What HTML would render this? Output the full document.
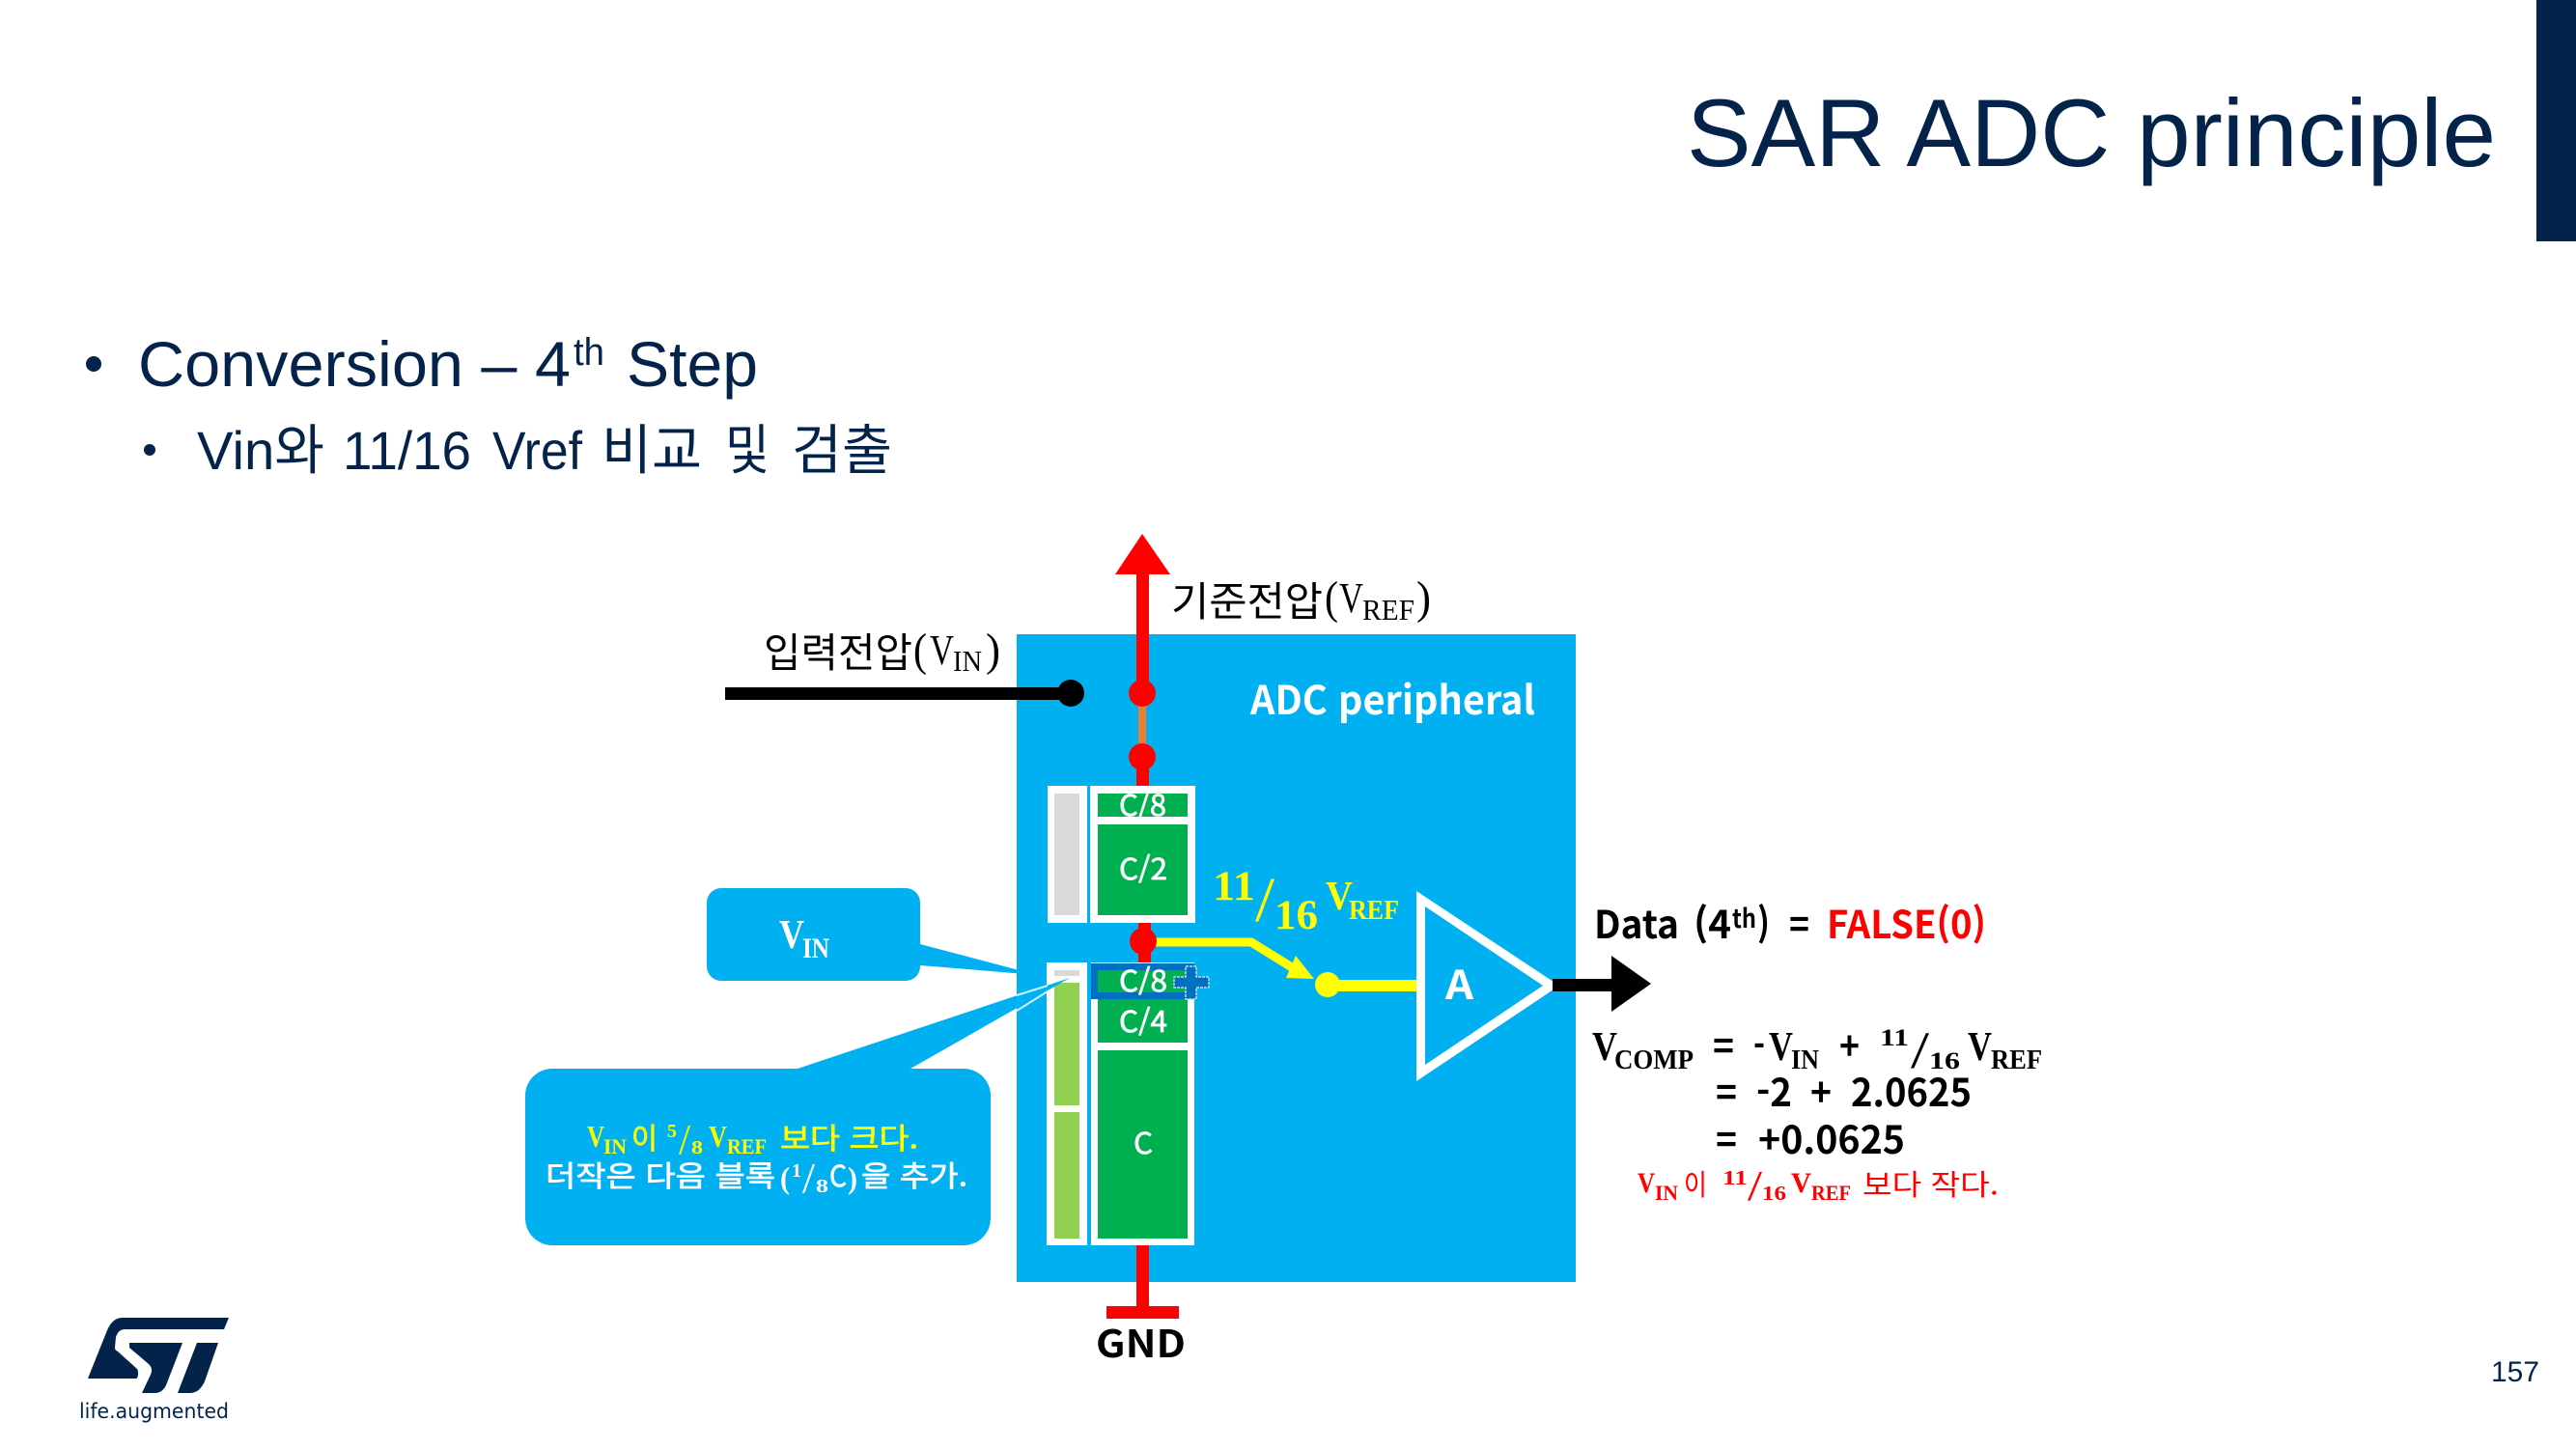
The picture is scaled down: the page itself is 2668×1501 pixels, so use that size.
<!DOCTYPE html>
<html lang="ko">
<head>
<meta charset="utf-8">
<title>SAR ADC principle</title>
<style>
html,body{margin:0;padding:0;background:#fff;}
body{width:2668px;height:1501px;overflow:hidden;}
svg{display:block;}
.h{font-family:"Liberation Sans","Noto Sans CJK KR",sans-serif;fill:#03234B;}
.k{font-family:"Noto Sans CJK KR","Liberation Sans",sans-serif;}
.s{font-family:"Liberation Serif","Noto Serif CJK SC",serif;}
.w{fill:#fff;}
.y{fill:#FFFF00;}
.r{fill:#FF0000;}
.b{fill:#000;}
.B{font-weight:700;}
.fw{stroke:#fff;stroke-width:.7px;}
.fy{stroke:#FFFF00;stroke-width:.7px;}
</style>
</head>
<body>
<svg xmlns="http://www.w3.org/2000/svg" width="2668" height="1501" viewBox="0 0 2668 1501">
<rect width="2668" height="1501" fill="#fff"/>

<!-- header -->
<rect x="2627" y="0" width="41" height="250" fill="#03234B"/>
<text class="h" x="1747" y="172" font-size="99" textLength="838" lengthAdjust="spacingAndGlyphs">SAR ADC principle</text>

<!-- bullets -->
<circle cx="97" cy="377" r="8" fill="#03234B"/>
<text class="h" x="143" y="400" font-size="66" textLength="448" lengthAdjust="spacingAndGlyphs">Conversion – 4</text>
<text class="h" x="594" y="378" font-size="40" textLength="32" lengthAdjust="spacingAndGlyphs">th</text>
<text class="h" x="649" y="400" font-size="66" textLength="136" lengthAdjust="spacingAndGlyphs">Step</text>
<circle cx="155" cy="466" r="6" fill="#03234B"/>
<text class="h" x="204" y="486" font-size="56" textLength="132" lengthAdjust="spacingAndGlyphs">Vin와</text>
<text class="h" x="355" y="486" font-size="56" textLength="133" lengthAdjust="spacingAndGlyphs">11/16</text>
<text class="h" x="510" y="486" font-size="56" textLength="93" lengthAdjust="spacingAndGlyphs">Vref</text>
<text class="h" x="623" y="486" font-size="56" textLength="104" lengthAdjust="spacingAndGlyphs">비교</text>
<text class="h" x="751" y="486" font-size="56" textLength="46" lengthAdjust="spacingAndGlyphs">및</text>
<text class="h" x="820" y="486" font-size="56" textLength="104" lengthAdjust="spacingAndGlyphs">검출</text>

<!-- peripheral box -->
<rect x="1053" y="657" width="579" height="671" fill="#00B0F0"/>

<!-- VREF arrow -->
<rect x="1177" y="590" width="13" height="128" fill="#FF0000"/>
<polygon points="1183,553 1155,595 1212,595" fill="#FF0000"/>
<rect x="1179" y="718" width="8" height="66" fill="#ED7D31"/>
<rect x="1177" y="784" width="13" height="32" fill="#FF0000"/>
<circle cx="1183" cy="718" r="14" fill="#FF0000"/>
<circle cx="1183" cy="784" r="14" fill="#FF0000"/>

<!-- VIN wire -->
<rect x="751" y="712" width="350" height="13" fill="#000"/>
<circle cx="1109" cy="718" r="14" fill="#000"/>

<!-- upper caps -->
<rect x="1085" y="814" width="41" height="142" fill="#fff"/>
<rect x="1092" y="822" width="26" height="126" fill="#D9D9D9"/>
<rect x="1129" y="814" width="109" height="142" fill="#fff"/>
<rect x="1137" y="822" width="93" height="24" fill="#00B050"/>
<rect x="1137" y="854" width="93" height="94" fill="#00B050"/>

<!-- middle red node -->
<rect x="1179" y="956" width="13" height="42" fill="#FF0000"/>

<!-- yellow path -->
<polyline points="1190,976 1296,976 1346,1007" fill="none" stroke="#FFFF00" stroke-width="9"/>
<polygon points="1332,1013 1361,1014 1342,990" fill="#FFFF00"/>
<rect x="1375" y="1015" width="92" height="12" fill="#FFFF00"/>
<circle cx="1375" cy="1020" r="13" fill="#FFFF00"/>
<circle cx="1184" cy="975" r="14" fill="#FF0000"/>

<!-- lower caps -->
<rect x="1084" y="997" width="42" height="293" fill="#fff"/>
<rect x="1092" y="1005" width="26" height="6" fill="#D9D9D9"/>
<rect x="1092" y="1018" width="26" height="127" fill="#92D050"/>
<rect x="1092" y="1152" width="26" height="131" fill="#92D050"/>
<rect x="1130" y="997" width="107" height="293" fill="#fff"/>
<rect x="1137" y="1035" width="93" height="45" fill="#00B050"/>
<rect x="1137" y="1088" width="93" height="195" fill="#00B050"/>
<rect x="1130" y="998" width="107" height="37" fill="#0070C0"/>
<rect x="1137" y="1005" width="93" height="23" fill="#00B050"/>
<path d="M1228 1001h11v11h13v11h-13v12h-11v-12h-12v-11h12z" fill="#0070C0" stroke="#BDD7EE" stroke-width="1.5" stroke-dasharray="3 1"/>

<!-- GND -->
<rect x="1177" y="1290" width="13" height="64" fill="#FF0000"/>
<rect x="1146" y="1353" width="75" height="13" fill="#FF0000"/>
<text class="k B b" x="1135" y="1406" font-size="39" textLength="93" lengthAdjust="spacingAndGlyphs">GND</text>

<!-- comparator -->
<polygon points="1467,923 1467,1120 1615,1021" fill="#fff"/>
<polygon points="1476,939 1476,1103 1598,1021" fill="#00B0F0"/>
<text class="k B w" x="1497" y="1035" font-size="41" textLength="29" lengthAdjust="spacingAndGlyphs">A</text>

<!-- output arrow -->
<rect x="1608" y="1014" width="62" height="13" fill="#000"/>
<polygon points="1669,990 1669,1048 1710,1019" fill="#000"/>

<!-- callouts -->
<path d="M747 920H938a15 15 0 0 1 15 15V978L1074 1010 953 1000a15 15 0 0 1-15 16H747a15 15 0 0 1-15-15V935a15 15 0 0 1 15-15z" fill="#00B0F0"/>
<path d="M572 1107H826L1108 1013 943 1107H998a28 28 0 0 1 28 28V1262a28 28 0 0 1-28 28H572a28 28 0 0 1-28-28V1135a28 28 0 0 1 28-28z" fill="#00B0F0"/>
<line x1="1053" y1="1031" x2="1085" y2="1021" stroke="#CFF1FD" stroke-width="2"/>
<line x1="1053" y1="1047" x2="1085" y2="1027" stroke="#CFF1FD" stroke-width="2"/>

<!-- labels: VIN -->
<text class="k b" x="791" y="691" font-size="42" textLength="154" lengthAdjust="spacingAndGlyphs">입력전압</text>
<text class="s b" x="946" y="689" font-size="48" textLength="14" lengthAdjust="spacingAndGlyphs">(</text>
<text class="s b" x="963" y="688" font-size="44" textLength="25" lengthAdjust="spacingAndGlyphs">V</text>
<text class="s b" x="987" y="695" font-size="31" textLength="30" lengthAdjust="spacingAndGlyphs">IN</text>
<text class="s b" x="1021" y="689" font-size="48" textLength="15" lengthAdjust="spacingAndGlyphs">)</text>

<!-- labels: VREF -->
<text class="k b" x="1213" y="638" font-size="42" textLength="157" lengthAdjust="spacingAndGlyphs">기준전압</text>
<text class="s b" x="1372" y="635" font-size="48" textLength="14" lengthAdjust="spacingAndGlyphs">(</text>
<text class="s b" x="1387" y="634" font-size="44" textLength="25" lengthAdjust="spacingAndGlyphs">V</text>
<text class="s b" x="1411" y="642" font-size="31" textLength="54" lengthAdjust="spacingAndGlyphs">REF</text>
<text class="s b" x="1467" y="635" font-size="48" textLength="15" lengthAdjust="spacingAndGlyphs">)</text>

<text class="k B w" x="1295" y="740" font-size="41" textLength="295" lengthAdjust="spacingAndGlyphs">ADC peripheral</text>

<!-- cap labels -->
<text class="k w fw" x="1159" y="845" font-size="30" textLength="49" lengthAdjust="spacingAndGlyphs">C/8</text>
<text class="k w fw" x="1159" y="911" font-size="30" textLength="50" lengthAdjust="spacingAndGlyphs">C/2</text>
<text class="k w fw" x="1159" y="1027" font-size="30" textLength="50" lengthAdjust="spacingAndGlyphs">C/8</text>
<text class="k w fw" x="1159" y="1069" font-size="30" textLength="50" lengthAdjust="spacingAndGlyphs">C/4</text>
<text class="k w fw" x="1174" y="1195" font-size="30" textLength="20" lengthAdjust="spacingAndGlyphs">C</text>

<!-- 11/16 VREF yellow -->
<text class="s B y" x="1256" y="932" font-size="43" textLength="44" lengthAdjust="spacingAndGlyphs">11</text>
<text class="s y" x="1300" y="954" font-size="66" textLength="20" lengthAdjust="spacingAndGlyphs">/</text>
<text class="s B y" x="1320" y="962" font-size="43" textLength="45" lengthAdjust="spacingAndGlyphs">16</text>
<text class="s B y" x="1373" y="942" font-size="42" textLength="28" lengthAdjust="spacingAndGlyphs">V</text>
<text class="s B y" x="1397" y="952" font-size="29" textLength="52" lengthAdjust="spacingAndGlyphs">REF</text>

<!-- VIN callout text -->
<text class="s B w" x="807" y="982" font-size="42" textLength="26" lengthAdjust="spacingAndGlyphs">V</text>
<text class="s B w" x="831" y="992" font-size="30" textLength="28" lengthAdjust="spacingAndGlyphs">IN</text>

<!-- callout 2 line 1 -->
<text class="s B y" x="608" y="1188" font-size="32" textLength="18" lengthAdjust="spacingAndGlyphs">V</text>
<text class="s B y" x="625" y="1195" font-size="22" textLength="24" lengthAdjust="spacingAndGlyphs">IN</text>
<text class="k y fy" x="654" y="1190" font-size="30" textLength="27" lengthAdjust="spacingAndGlyphs">이</text>
<text class="s B y" x="691" y="1178" font-size="20" textLength="10" lengthAdjust="spacingAndGlyphs">5</text>
<text class="s y" x="703" y="1195" font-size="44" textLength="12" lengthAdjust="spacingAndGlyphs">/</text>
<text class="s B y" x="716" y="1195" font-size="20" textLength="12" lengthAdjust="spacingAndGlyphs">8</text>
<text class="s B y" x="734" y="1188" font-size="32" textLength="19" lengthAdjust="spacingAndGlyphs">V</text>
<text class="s B y" x="753" y="1195" font-size="22" textLength="41" lengthAdjust="spacingAndGlyphs">REF</text>
<text class="k y fy" x="808" y="1190" font-size="30" textLength="143" lengthAdjust="spacingAndGlyphs">보다 크다.</text>

<!-- callout 2 line 2 -->
<text class="k w fw" x="565" y="1229" font-size="30" textLength="238" lengthAdjust="spacingAndGlyphs">더작은 다음 블록</text>
<text class="s B w" x="808" y="1231" font-size="32" textLength="10" lengthAdjust="spacingAndGlyphs">(</text>
<text class="s B w" x="820" y="1219" font-size="20" textLength="10" lengthAdjust="spacingAndGlyphs">1</text>
<text class="s w" x="831" y="1235" font-size="44" textLength="13" lengthAdjust="spacingAndGlyphs">/</text>
<text class="s B w" x="845" y="1235" font-size="20" textLength="13" lengthAdjust="spacingAndGlyphs">8</text>
<text class="k w fw" x="859" y="1229" font-size="30" textLength="18" lengthAdjust="spacingAndGlyphs">C</text>
<text class="s B w" x="878" y="1231" font-size="32" textLength="10" lengthAdjust="spacingAndGlyphs">)</text>
<text class="k w fw" x="892" y="1229" font-size="30" textLength="110" lengthAdjust="spacingAndGlyphs">을 추가.</text>

<!-- Data line -->
<text class="k B b" x="1651" y="972" font-size="40" textLength="88" lengthAdjust="spacingAndGlyphs">Data</text>
<text class="k B b" x="1754" y="972" font-size="40" textLength="39" lengthAdjust="spacingAndGlyphs">(4</text>
<text class="k B b" x="1794" y="961" font-size="27" textLength="25" lengthAdjust="spacingAndGlyphs">th</text>
<text class="k B b" x="1820" y="972" font-size="40" textLength="13" lengthAdjust="spacingAndGlyphs">)</text>
<text class="k B b" x="1853" y="972" font-size="40" textLength="21" lengthAdjust="spacingAndGlyphs">=</text>
<text class="k B r" x="1892" y="972" font-size="40" textLength="165" lengthAdjust="spacingAndGlyphs">FALSE(0)</text>

<!-- VCOMP -->
<text class="s B b" x="1649" y="1098" font-size="42" textLength="26" lengthAdjust="spacingAndGlyphs">V</text>
<text class="s B b" x="1672" y="1107" font-size="29" textLength="82" lengthAdjust="spacingAndGlyphs">COMP</text>
<text class="k B b" x="1774" y="1098" font-size="40" textLength="22" lengthAdjust="spacingAndGlyphs">=</text>
<text class="k B b" x="1816" y="1098" font-size="40" textLength="12" lengthAdjust="spacingAndGlyphs">-</text>
<text class="s B b" x="1832" y="1098" font-size="42" textLength="25" lengthAdjust="spacingAndGlyphs">V</text>
<text class="s B b" x="1855" y="1107" font-size="29" textLength="29" lengthAdjust="spacingAndGlyphs">IN</text>
<text class="k B b" x="1905" y="1098" font-size="40" textLength="21" lengthAdjust="spacingAndGlyphs">+</text>
<text class="s B b" x="1947" y="1083" font-size="25" textLength="30" lengthAdjust="spacingAndGlyphs">11</text>
<text class="s b" x="1979" y="1106" font-size="54" textLength="19" lengthAdjust="spacingAndGlyphs">/</text>
<text class="s B b" x="1998" y="1107" font-size="25" textLength="32" lengthAdjust="spacingAndGlyphs">16</text>
<text class="s B b" x="2038" y="1098" font-size="42" textLength="25" lengthAdjust="spacingAndGlyphs">V</text>
<text class="s B b" x="2062" y="1107" font-size="29" textLength="53" lengthAdjust="spacingAndGlyphs">REF</text>

<text class="k B b" x="1777" y="1146" font-size="40" textLength="22" lengthAdjust="spacingAndGlyphs">=</text>
<text class="k B b" x="1819" y="1146" font-size="40" textLength="37" lengthAdjust="spacingAndGlyphs">-2</text>
<text class="k B b" x="1875" y="1146" font-size="40" textLength="22" lengthAdjust="spacingAndGlyphs">+</text>
<text class="k B b" x="1917" y="1146" font-size="40" textLength="125" lengthAdjust="spacingAndGlyphs">2.0625</text>

<text class="k B b" x="1777" y="1195" font-size="40" textLength="22" lengthAdjust="spacingAndGlyphs">=</text>
<text class="k B b" x="1821" y="1195" font-size="40" textLength="152" lengthAdjust="spacingAndGlyphs">+0.0625</text>

<!-- red note -->
<text class="s B r" x="1696" y="1235" font-size="30" textLength="18" lengthAdjust="spacingAndGlyphs">V</text>
<text class="s B r" x="1714" y="1243" font-size="22" textLength="24" lengthAdjust="spacingAndGlyphs">IN</text>
<text class="k r" x="1744" y="1238" font-size="30" textLength="24" lengthAdjust="spacingAndGlyphs">이</text>
<text class="s B r" x="1784" y="1227" font-size="21" textLength="26" lengthAdjust="spacingAndGlyphs">11</text>
<text class="s r" x="1810" y="1243" font-size="44" textLength="15" lengthAdjust="spacingAndGlyphs">/</text>
<text class="s B r" x="1825" y="1243" font-size="21" textLength="25" lengthAdjust="spacingAndGlyphs">16</text>
<text class="s B r" x="1855" y="1235" font-size="30" textLength="21" lengthAdjust="spacingAndGlyphs">V</text>
<text class="s B r" x="1876" y="1243" font-size="22" textLength="41" lengthAdjust="spacingAndGlyphs">REF</text>
<text class="k r" x="1929" y="1238" font-size="30" textLength="141" lengthAdjust="spacingAndGlyphs">보다 작다.</text>

<!-- logo -->
<g fill="#03234B">
<path d="M127 1365H237L232 1377H130C124 1377 122 1380 120 1385L119 1396C119 1398 120 1399 122 1400L142 1418C144 1421 143 1428 141 1428H91L111 1378C115 1369 120 1365 127 1365Z"/>
<path d="M134 1391H189L172 1435C169 1441 165 1443 160 1443H147L156 1424C158 1419 157 1416 154 1413L134 1396Z"/>
<path d="M204 1391H226L212 1431C208 1439 204 1443 196 1443H184Z"/>
</g>
<text x="82" y="1469" font-family="DejaVu Sans,sans-serif" font-size="21" fill="#03234B" textLength="155" lengthAdjust="spacingAndGlyphs">life.augmented</text>

<!-- page number -->
<text class="h" x="2580" y="1431" font-size="30" textLength="50" lengthAdjust="spacingAndGlyphs">157</text>
</svg>
</body>
</html>
